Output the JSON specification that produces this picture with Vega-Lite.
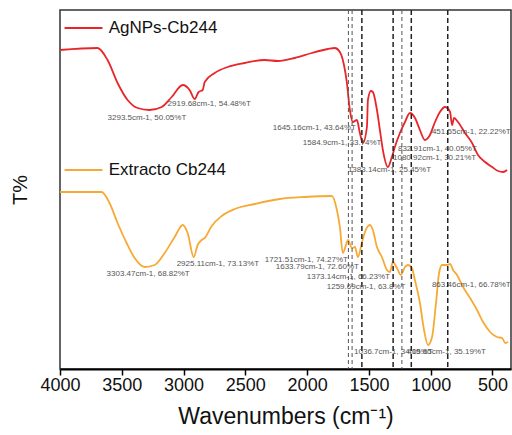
{
  "$schema": "https://vega.github.io/schema/vega-lite/v6.json",
  "width": 451,
  "height": 359,
  "autosize": {"type": "none"},
  "padding": {"left": 60, "top": 10, "right": 1, "bottom": 66},
  "background": "white",
  "config": {
    "view": {"stroke": "#333333", "strokeWidth": 1.5},
    "font": "Liberation Sans"
  },
  "datasets": {
    "spectra": [
      {"series": "AgNPs-Cb244", "wn": 4000, "t": 319},
      {"series": "AgNPs-Cb244", "wn": 3696, "t": 321},
      {"series": "AgNPs-Cb244", "wn": 3615, "t": 309},
      {"series": "AgNPs-Cb244", "wn": 3534, "t": 286},
      {"series": "AgNPs-Cb244", "wn": 3453, "t": 269},
      {"series": "AgNPs-Cb244", "wn": 3372, "t": 261},
      {"series": "AgNPs-Cb244", "wn": 3275, "t": 259},
      {"series": "AgNPs-Cb244", "wn": 3177, "t": 262},
      {"series": "AgNPs-Cb244", "wn": 3096, "t": 272},
      {"series": "AgNPs-Cb244", "wn": 3007, "t": 284},
      {"series": "AgNPs-Cb244", "wn": 2951, "t": 279},
      {"series": "AgNPs-Cb244", "wn": 2910, "t": 270},
      {"series": "AgNPs-Cb244", "wn": 2878, "t": 277},
      {"series": "AgNPs-Cb244", "wn": 2845, "t": 279},
      {"series": "AgNPs-Cb244", "wn": 2829, "t": 287},
      {"series": "AgNPs-Cb244", "wn": 2748, "t": 296},
      {"series": "AgNPs-Cb244", "wn": 2643, "t": 302},
      {"series": "AgNPs-Cb244", "wn": 2505, "t": 306},
      {"series": "AgNPs-Cb244", "wn": 2343, "t": 309},
      {"series": "AgNPs-Cb244", "wn": 2237, "t": 308},
      {"series": "AgNPs-Cb244", "wn": 2100, "t": 311},
      {"series": "AgNPs-Cb244", "wn": 1962, "t": 316},
      {"series": "AgNPs-Cb244", "wn": 1832, "t": 320},
      {"series": "AgNPs-Cb244", "wn": 1775, "t": 321},
      {"series": "AgNPs-Cb244", "wn": 1735, "t": 317},
      {"series": "AgNPs-Cb244", "wn": 1711, "t": 309},
      {"series": "AgNPs-Cb244", "wn": 1678, "t": 286},
      {"series": "AgNPs-Cb244", "wn": 1654, "t": 259},
      {"series": "AgNPs-Cb244", "wn": 1630, "t": 247},
      {"series": "AgNPs-Cb244", "wn": 1597, "t": 249},
      {"series": "AgNPs-Cb244", "wn": 1573, "t": 236},
      {"series": "AgNPs-Cb244", "wn": 1549, "t": 226},
      {"series": "AgNPs-Cb244", "wn": 1516, "t": 242},
      {"series": "AgNPs-Cb244", "wn": 1508, "t": 269},
      {"series": "AgNPs-Cb244", "wn": 1484, "t": 278},
      {"series": "AgNPs-Cb244", "wn": 1468, "t": 277},
      {"series": "AgNPs-Cb244", "wn": 1435, "t": 259},
      {"series": "AgNPs-Cb244", "wn": 1411, "t": 239},
      {"series": "AgNPs-Cb244", "wn": 1387, "t": 219},
      {"series": "AgNPs-Cb244", "wn": 1346, "t": 202},
      {"series": "AgNPs-Cb244", "wn": 1314, "t": 212},
      {"series": "AgNPs-Cb244", "wn": 1290, "t": 222},
      {"series": "AgNPs-Cb244", "wn": 1249, "t": 236},
      {"series": "AgNPs-Cb244", "wn": 1208, "t": 247},
      {"series": "AgNPs-Cb244", "wn": 1168, "t": 256},
      {"series": "AgNPs-Cb244", "wn": 1127, "t": 251},
      {"series": "AgNPs-Cb244", "wn": 1087, "t": 239},
      {"series": "AgNPs-Cb244", "wn": 1047, "t": 229},
      {"series": "AgNPs-Cb244", "wn": 1006, "t": 234},
      {"series": "AgNPs-Cb244", "wn": 965, "t": 247},
      {"series": "AgNPs-Cb244", "wn": 925, "t": 257},
      {"series": "AgNPs-Cb244", "wn": 884, "t": 262},
      {"series": "AgNPs-Cb244", "wn": 843, "t": 257},
      {"series": "AgNPs-Cb244", "wn": 827, "t": 244},
      {"series": "AgNPs-Cb244", "wn": 811, "t": 251},
      {"series": "AgNPs-Cb244", "wn": 779, "t": 247},
      {"series": "AgNPs-Cb244", "wn": 722, "t": 236},
      {"series": "AgNPs-Cb244", "wn": 665, "t": 226},
      {"series": "AgNPs-Cb244", "wn": 617, "t": 214},
      {"series": "AgNPs-Cb244", "wn": 560, "t": 207},
      {"series": "AgNPs-Cb244", "wn": 503, "t": 202},
      {"series": "AgNPs-Cb244", "wn": 455, "t": 198},
      {"series": "AgNPs-Cb244", "wn": 414, "t": 197},
      {"series": "AgNPs-Cb244", "wn": 382, "t": 199},
      {"series": "Extracto Cb244", "wn": 4000, "t": 177},
      {"series": "Extracto Cb244", "wn": 3664, "t": 177},
      {"series": "Extracto Cb244", "wn": 3599, "t": 166},
      {"series": "Extracto Cb244", "wn": 3534, "t": 146},
      {"series": "Extracto Cb244", "wn": 3461, "t": 126},
      {"series": "Extracto Cb244", "wn": 3396, "t": 111},
      {"series": "Extracto Cb244", "wn": 3315, "t": 102},
      {"series": "Extracto Cb244", "wn": 3234, "t": 104},
      {"series": "Extracto Cb244", "wn": 3153, "t": 116},
      {"series": "Extracto Cb244", "wn": 3072, "t": 132},
      {"series": "Extracto Cb244", "wn": 3007, "t": 144},
      {"series": "Extracto Cb244", "wn": 2967, "t": 136},
      {"series": "Extracto Cb244", "wn": 2918, "t": 112},
      {"series": "Extracto Cb244", "wn": 2886, "t": 124},
      {"series": "Extracto Cb244", "wn": 2853, "t": 129},
      {"series": "Extracto Cb244", "wn": 2829, "t": 131},
      {"series": "Extracto Cb244", "wn": 2772, "t": 143},
      {"series": "Extracto Cb244", "wn": 2691, "t": 153},
      {"series": "Extracto Cb244", "wn": 2586, "t": 160},
      {"series": "Extracto Cb244", "wn": 2424, "t": 165},
      {"series": "Extracto Cb244", "wn": 2221, "t": 170},
      {"series": "Extracto Cb244", "wn": 2019, "t": 172},
      {"series": "Extracto Cb244", "wn": 1800, "t": 173},
      {"series": "Extracto Cb244", "wn": 1759, "t": 159},
      {"series": "Extracto Cb244", "wn": 1735, "t": 142},
      {"series": "Extracto Cb244", "wn": 1711, "t": 116},
      {"series": "Extracto Cb244", "wn": 1678, "t": 127},
      {"series": "Extracto Cb244", "wn": 1670, "t": 129},
      {"series": "Extracto Cb244", "wn": 1637, "t": 121},
      {"series": "Extracto Cb244", "wn": 1613, "t": 122},
      {"series": "Extracto Cb244", "wn": 1589, "t": 112},
      {"series": "Extracto Cb244", "wn": 1557, "t": 126},
      {"series": "Extracto Cb244", "wn": 1532, "t": 137},
      {"series": "Extracto Cb244", "wn": 1492, "t": 144},
      {"series": "Extracto Cb244", "wn": 1468, "t": 139},
      {"series": "Extracto Cb244", "wn": 1435, "t": 122},
      {"series": "Extracto Cb244", "wn": 1395, "t": 112},
      {"series": "Extracto Cb244", "wn": 1354, "t": 99},
      {"series": "Extracto Cb244", "wn": 1330, "t": 97},
      {"series": "Extracto Cb244", "wn": 1306, "t": 107},
      {"series": "Extracto Cb244", "wn": 1273, "t": 101},
      {"series": "Extracto Cb244", "wn": 1241, "t": 94},
      {"series": "Extracto Cb244", "wn": 1208, "t": 102},
      {"series": "Extracto Cb244", "wn": 1184, "t": 104},
      {"series": "Extracto Cb244", "wn": 1152, "t": 101},
      {"series": "Extracto Cb244", "wn": 1128, "t": 89},
      {"series": "Extracto Cb244", "wn": 1087, "t": 66},
      {"series": "Extracto Cb244", "wn": 1054, "t": 39},
      {"series": "Extracto Cb244", "wn": 1022, "t": 24},
      {"series": "Extracto Cb244", "wn": 989, "t": 32},
      {"series": "Extracto Cb244", "wn": 957, "t": 66},
      {"series": "Extracto Cb244", "wn": 932, "t": 96},
      {"series": "Extracto Cb244", "wn": 908, "t": 104},
      {"series": "Extracto Cb244", "wn": 867, "t": 104},
      {"series": "Extracto Cb244", "wn": 843, "t": 105},
      {"series": "Extracto Cb244", "wn": 819, "t": 99},
      {"series": "Extracto Cb244", "wn": 787, "t": 94},
      {"series": "Extracto Cb244", "wn": 738, "t": 82},
      {"series": "Extracto Cb244", "wn": 681, "t": 71},
      {"series": "Extracto Cb244", "wn": 625, "t": 59},
      {"series": "Extracto Cb244", "wn": 576, "t": 47},
      {"series": "Extracto Cb244", "wn": 519, "t": 37},
      {"series": "Extracto Cb244", "wn": 463, "t": 32},
      {"series": "Extracto Cb244", "wn": 422, "t": 31},
      {"series": "Extracto Cb244", "wn": 397, "t": 26},
      {"series": "Extracto Cb244", "wn": 373, "t": 27}
    ],
    "peaksLight": [{"wn": 1666}, {"wn": 1636}, {"wn": 1233}],
    "peaksStrong": [{"wn": 1557}, {"wn": 1304}, {"wn": 1157}, {"wn": 862}],
    "notes": [
      {"wn": 3615, "t": 251, "label": "3293.5cm-1, 50.05%T"},
      {"wn": 3129, "t": 265, "label": "2919.68cm-1, 54.48%T"},
      {"wn": 2278, "t": 241, "label": "1645.16cm-1, 43.64%T"},
      {"wn": 2035, "t": 226, "label": "1584.9cm-1, 33.74%T"},
      {"wn": 1670, "t": 199, "label": "1383.14cm-1, 25.45%T"},
      {"wn": 1265, "t": 220, "label": "832.91cm-1, 40.05%T"},
      {"wn": 1305, "t": 211, "label": "1080.92cm-1, 30.21%T"},
      {"wn": 990, "t": 237, "label": "451.55cm-1, 22.22%T"},
      {"wn": 3623, "t": 95, "label": "3303.47cm-1, 68.82%T"},
      {"wn": 3056, "t": 105, "label": "2925.11cm-1, 73.13%T"},
      {"wn": 2343, "t": 109, "label": "1721.51cm-1, 74.27%T"},
      {"wn": 2254, "t": 102, "label": "1633.79cm-1, 72.60%T"},
      {"wn": 2003, "t": 92, "label": "1373.14cm-1, 66.23%T"},
      {"wn": 1841, "t": 82, "label": "1259.69cm-1, 63.8%T"},
      {"wn": 990, "t": 84, "label": "863.46cm-1, 66.78%T"},
      {"wn": 1620, "t": 17, "label": "1036.7cm-1, 34.05%T"},
      {"wn": 1190, "t": 17, "label": "419.65cm-1, 35.19%T"}
    ],
    "legend": [
      {"series": "AgNPs-Cb244", "wn": 3963, "wn2": 3656, "t": 341, "tx": 3606},
      {"series": "Extracto Cb244", "wn": 3963, "wn2": 3656, "t": 199, "tx": 3606}
    ]
  },
  "layer": [
    {
      "data": {"name": "spectra"},
      "mark": {"type": "line", "strokeWidth": 1.8, "interpolate": "monotone"},
      "encoding": {
        "x": {
          "field": "wn", "type": "quantitative",
          "scale": {"domain": [350, 4000], "reverse": true, "nice": false, "zero": false},
          "axis": {
            "title": "Wavenumbers (cm⁻¹)",
            "values": [4000, 3750, 3500, 3250, 3000, 2750, 2500, 2250, 2000, 1750, 1500, 1250, 1000, 750, 500],
            "format": "d",
            "labelExpr": "datum.value % 500 === 0 ? datum.label : ''",
            "tickSize": {"condition": {"test": "datum.value % 500 === 0", "value": 6}, "value": 3},
            "tickColor": "#000000",
            "tickWidth": 1.5,
            "domainColor": "#000000",
            "domainWidth": 2,
            "labelFont": "Liberation Sans",
            "labelFontSize": 18,
            "labelColor": "#111111",
            "labelPadding": 1,
            "labelFlush": false,
            "labelOverlap": false,
            "titleFont": "Liberation Sans",
            "titleFontSize": 23,
            "titleFontWeight": "normal",
            "titleColor": "#111111",
            "titlePadding": 11,
            "grid": false
          }
        },
        "y": {
          "field": "t", "type": "quantitative",
          "scale": {"domain": [0, 359], "nice": false, "zero": false},
          "axis": {
            "title": "T%",
            "labels": false,
            "ticks": false,
            "domain": false,
            "grid": false,
            "titleFont": "Liberation Sans",
            "titleFontSize": 20,
            "titleFontWeight": "normal",
            "titleColor": "#111111",
            "titlePadding": 30
          }
        },
        "color": {
          "field": "series", "type": "nominal",
          "scale": {"domain": ["AgNPs-Cb244", "Extracto Cb244"], "range": ["#e8262a", "#f7a935"]},
          "legend": null
        }
      }
    },
    {
      "data": {"name": "peaksLight"},
      "mark": {"type": "rule", "color": "#555555", "strokeWidth": 1, "strokeDash": [4, 3]},
      "encoding": {"x": {"field": "wn", "type": "quantitative"}}
    },
    {
      "data": {"name": "peaksStrong"},
      "mark": {"type": "rule", "color": "#222222", "strokeWidth": 1.5, "strokeDash": [5, 3]},
      "encoding": {"x": {"field": "wn", "type": "quantitative"}}
    },
    {
      "data": {"name": "notes"},
      "mark": {"type": "text", "align": "left", "baseline": "middle", "fontSize": 8, "color": "#555555", "font": "Liberation Sans"},
      "encoding": {
        "x": {"field": "wn", "type": "quantitative"},
        "y": {"field": "t", "type": "quantitative"},
        "text": {"field": "label"}
      }
    },
    {
      "data": {"name": "legend"},
      "mark": {"type": "rule", "strokeWidth": 1.8},
      "encoding": {
        "x": {"field": "wn", "type": "quantitative"},
        "x2": {"field": "wn2"},
        "y": {"field": "t", "type": "quantitative"},
        "color": {"field": "series", "type": "nominal", "legend": null}
      }
    },
    {
      "data": {"name": "legend"},
      "mark": {"type": "text", "align": "left", "baseline": "middle", "fontSize": 17, "color": "#111111", "font": "Liberation Sans"},
      "encoding": {
        "x": {"field": "tx", "type": "quantitative"},
        "y": {"field": "t", "type": "quantitative"},
        "text": {"field": "series"}
      }
    }
  ]
}
